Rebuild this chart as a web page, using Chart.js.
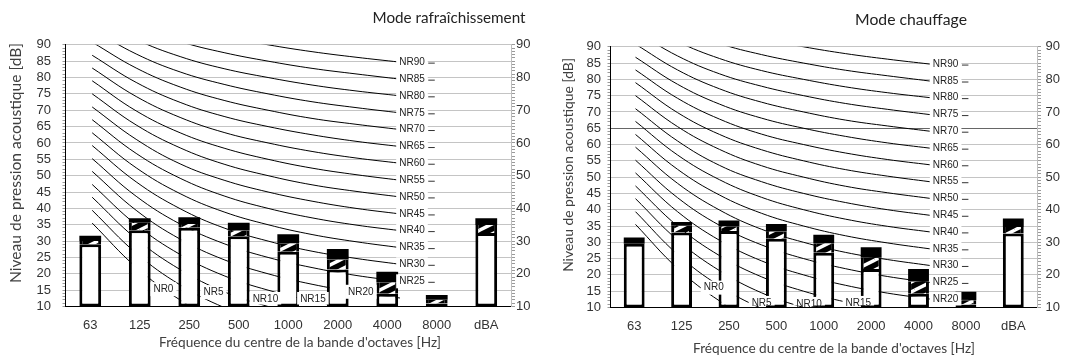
<!DOCTYPE html>
<html>
<head>
<meta charset="utf-8">
<script src="https://cdn.jsdelivr.net/npm/chart.js@4.4.1/dist/chart.umd.min.js"></script>
<style>
  html, body { margin: 0; padding: 0; background: #fff; }
  #wrap { position: relative; width: 1069px; height: 358px; }
  canvas { position: absolute; top: 0; }
  #cool { left: 0; }
  #heat { left: 535px; }
</style>
</head>
<body>
<div id="wrap">
  <canvas id="cool" width="535" height="358"></canvas>
  <canvas id="heat" width="534" height="358"></canvas>
</div>
<script>
const bands = ['63', '125', '250', '500', '1000', '2000', '4000', '8000', 'dBA'];

// NR curves, 63 Hz ... 8000 Hz
const nrLevels = [0, 5, 10, 15, 20, 25, 30, 35, 40, 45, 50, 55, 60, 65, 70, 75, 80, 85, 90];
const nr0  = [35.5, 22.0, 12.0, 4.8, 0.0, -3.5, -6.1, -8.0];
const nr5  = [39.4, 26.3, 16.6, 9.7, 5.0, 1.6, -1.0, -2.8];
const nr10 = [43.4, 30.7, 21.3, 14.5, 10.0, 6.6, 4.2, 2.3];
const nr15 = [47.3, 35.0, 25.9, 19.4, 15.0, 11.7, 9.3, 7.4];
const nr20 = [51.3, 39.4, 30.6, 24.3, 20.0, 16.8, 14.4, 12.6];
const nr25 = [55.2, 43.7, 35.2, 29.2, 25.0, 21.9, 19.5, 17.7];
const nr30 = [59.2, 48.1, 39.9, 34.0, 30.0, 26.9, 24.7, 22.9];
const nr35 = [63.1, 52.4, 44.5, 38.9, 35.0, 32.0, 29.8, 28.0];
const nr40 = [67.1, 56.8, 49.2, 43.8, 40.0, 37.1, 34.9, 33.2];
const nr45 = [71.0, 61.1, 53.6, 48.6, 45.0, 42.2, 40.0, 38.3];
const nr50 = [75.0, 65.5, 58.5, 53.5, 50.0, 47.2, 45.2, 43.5];
const nr55 = [79.0, 69.8, 63.1, 58.4, 55.0, 52.3, 50.3, 48.6];
const nr60 = [82.9, 74.2, 67.8, 63.2, 60.0, 57.4, 55.4, 53.8];
const nr65 = [86.8, 78.5, 72.4, 68.1, 65.0, 62.5, 60.5, 58.9];
const nr70 = [90.8, 82.9, 77.1, 73.0, 70.0, 67.5, 65.7, 64.1];
const nr75 = [94.7, 87.2, 81.7, 77.9, 75.0, 72.6, 70.8, 69.2];
const nr80 = [98.7, 91.6, 86.4, 82.7, 80.0, 77.7, 75.9, 74.4];
const nr85 = [102.6, 95.9, 91.0, 87.6, 85.0, 82.8, 81.1, 79.5];
const nr90 = [106.6, 100.3, 95.7, 92.5, 90.0, 87.9, 86.2, 84.7];
const nrCurves = [nr0, nr5, nr10, nr15, nr20, nr25, nr30, nr35, nr40, nr45,
                  nr50, nr55, nr60, nr65, nr70, nr75, nr80, nr85, nr90];

// bars: top of white part, top of hatched band, top of black cap (dB)
const coolBase  = [29.0, 33.3, 34.1, 31.5, 26.7, 21.3, 13.9, 10.9, 32.5];
const coolHatch = [30.0, 35.6, 35.2, 33.2, 29.3, 24.4, 17.4, 12.1, 34.9];
const coolTop   = [31.6, 37.0, 37.3, 35.6, 32.1, 27.6, 20.6, 13.5, 37.0];
const heatBase  = [29.6, 33.0, 33.5, 31.1, 26.8, 21.8, 14.2, 10.9, 32.7];
const heatHatch = [29.6, 35.1, 34.9, 33.3, 29.7, 25.3, 18.0, 12.2, 34.7];
const heatTop   = [31.5, 36.2, 36.7, 35.6, 32.3, 28.5, 21.8, 14.8, 37.3];

// where the low NR labels were moved to (curve index units, dB)
const coolLowLabels = { 0: [1.62, 15.3], 5: [2.76, 14.4], 10: [3.94, 12.3], 15: [5.02, 12.3], 20: [6.11, 14.5] };
const heatLowLabels = { 0: [1.86, 16.1], 5: [3.0, 11.4], 10: [4.13, 11.1], 15: [5.3, 11.4] };

const TICK_FONT = { family: '"Liberation Sans", Arial, sans-serif', size: 13 };
const TEXT_FAMILY = 'Lato, "Open Sans", sans-serif';

function makeHatch() {
  const c = document.createElement('canvas');
  c.width = 20; c.height = 10;
  const g = c.getContext('2d');
  g.fillStyle = '#000';
  g.fillRect(0, 0, 20, 10);
  g.strokeStyle = '#fff';
  g.lineWidth = 3.5;
  g.beginPath();
  for (const dx of [-20, 0, 20]) {
    for (const dy of [-10, 0, 10]) {
      g.moveTo(dx, 10 + dy);
      g.lineTo(20 + dx, dy);
    }
  }
  g.stroke();
  return g.createPattern(c, 'repeat');
}

// titles, sized so that they cover the same length as in the original
const textPlugin = {
  id: 'texts',
  afterDraw(chart, args, opts) {
    const ctx = chart.ctx;
    for (const t of opts.items || []) {
      ctx.save();
      ctx.font = '12px ' + TEXT_FAMILY;
      const size = 12 * t.len / ctx.measureText(t.text).width;
      ctx.font = size.toFixed(2) + 'px ' + TEXT_FAMILY;
      ctx.fillStyle = t.color || '#333';
      ctx.textAlign = 'center';
      ctx.textBaseline = 'middle';
      ctx.translate(t.x, t.y);
      if (t.rot) ctx.rotate(t.rot);
      ctx.fillText(t.text, 0, 0);
      ctx.restore();
    }
  }
};

const nrLabelPlugin = {
  id: 'nrLabels',
  afterDatasetsDraw(chart, args, opts) {
    const { ctx, scales, chartArea } = chart;
    ctx.save();
    ctx.font = '10px "Liberation Sans", Arial, sans-serif';
    ctx.textBaseline = 'middle';
    ctx.textAlign = 'center';
    nrLevels.forEach((lvl, i) => {
      const name = 'NR' + lvl;
      const w = ctx.measureText(name).width;
      const low = opts.low[lvl];
      let cx, cy;
      if (low) {
        cx = scales.xc.getPixelForValue(low[0]);
        cy = scales.y.getPixelForValue(low[1]);
      } else {
        const px = scales.x.getPixelForValue(7) + opts.dash;
        cy = scales.y.getPixelForValue(nrCurves[i][7]);
        cx = px - 7 - w / 2;
        ctx.strokeStyle = '#333';
        ctx.lineWidth = 1;
        ctx.beginPath();
        ctx.moveTo(px - 3.5, cy + 1);
        ctx.lineTo(px + 3, cy + 1);
        ctx.stroke();
      }
      const top = cy - 7;
      const bottom = Math.min(cy + 7, chartArea.bottom - 2);
      ctx.fillStyle = '#fff';
      ctx.fillRect(cx - w / 2 - 3, top, w + 6, bottom - top);
      ctx.fillStyle = '#222';
      ctx.fillText(name, cx, cy);
    });
    ctx.restore();
  }
};

function makePanel(id, p) {
  const hatch = makeHatch();
  const datasets = [];
  nrCurves.forEach((curve, i) => {
    datasets.push({
      type: 'line',
      label: 'NR' + nrLevels[i],
      xAxisID: 'xc',
      yAxisID: 'y',
      data: curve.map((v, k) => ({ x: k, y: v })),
      borderColor: '#000',
      borderWidth: 1,
      pointRadius: 0,
      tension: 0.4,
      order: 10
    });
  });
  const barCommon = {
    type: 'bar',
    xAxisID: 'x',
    yAxisID: 'y',
    grouped: false,
    barPercentage: 0.44,
    categoryPercentage: 1,
    borderColor: '#000',
    borderSkipped: false
  };
  datasets.push(Object.assign({}, barCommon, {
    label: 'base',
    data: p.base.map(v => [10, v]),
    backgroundColor: '#fff',
    borderWidth: 3,
    order: 3
  }));
  datasets.push(Object.assign({}, barCommon, {
    label: 'hatch',
    data: p.base.map((v, i) => [v, p.hatch[i]]),
    backgroundColor: hatch,
    borderWidth: { left: 3, right: 3, top: 0, bottom: 0 },
    order: 2
  }));
  datasets.push(Object.assign({}, barCommon, {
    label: 'top',
    data: p.hatch.map((v, i) => [v, p.top[i]]),
    backgroundColor: '#000',
    borderWidth: 0,
    order: 1
  }));

  return new Chart(document.getElementById(id), {
    type: 'bar',
    data: { labels: bands, datasets },
    plugins: [textPlugin, nrLabelPlugin],
    options: {
      responsive: false,
      animation: false,
      devicePixelRatio: 1,
      layout: { padding: { top: p.top0, left: 0, right: 0, bottom: 0 } },
      plugins: {
        legend: { display: false },
        tooltip: { enabled: false },
        nrLabels: { low: p.low, dash: p.dash },
        texts: { items: p.texts }
      },
      scales: {
        x: {
          type: 'category',
          offset: true,
          grid: { display: false },
          border: { color: '#000', width: 1 },
          ticks: { font: TICK_FONT, color: '#333', padding: 3, maxRotation: 0, autoSkip: false },
          afterFit(s) { s.height = p.xH; s.paddingLeft = 0; s.paddingRight = 0; }
        },
        xc: { type: 'linear', display: false, offset: false, min: p.xcMin, max: p.xcMax },
        y: {
          position: 'left',
          min: 10, max: 90,
          ticks: {
            stepSize: 1, maxTicksLimit: 200, autoSkip: false,
            font: TICK_FONT, color: '#333', padding: p.leftPad,
            callback: v => (v % 5 === 0 ? v : '')
          },
          grid: {
            color: c => {
              const v = c.tick ? c.tick.value : 0;
              if (p.darkLine && v === p.darkLine) return '#666';
              return v % 5 === 0 ? '#c4c4c4' : 'rgba(0,0,0,0)';
            },
            tickColor: '#9a9a9a',
            tickLength: 3
          },
          border: { color: '#000', width: 1 },
          afterFit(s) { s.width = p.leftW; s.paddingTop = 0; s.paddingBottom = 0; }
        },
        y2: {
          position: 'right',
          min: 10, max: 90,
          ticks: {
            stepSize: 1, maxTicksLimit: 200, autoSkip: false,
            font: TICK_FONT, color: '#333', padding: p.rightPad,
            callback: v => (v % 10 === 0 ? v : '')
          },
          grid: { drawOnChartArea: false, tickColor: '#9a9a9a', tickLength: 4 },
          border: { color: '#bdbdbd', width: 1 },
          afterFit(s) { s.width = p.rightW; s.paddingTop = 0; s.paddingBottom = 0; }
        }
      }
    }
  });
}

const Y_TITLE = 'Niveau de pression acoustique [dB]';
const X_TITLE = "Fréquence du centre de la bande d'octaves [Hz]";

makePanel('cool', {
  base: coolBase, hatch: coolHatch, top: coolTop, low: coolLowLabels,
  top0: 44.8, xH: 51.5, leftW: 65.5, rightW: 24, leftPad: 11.5, rightPad: 1,
  xcMin: -0.607, xcMax: 9.525, dash: -5,
  texts: [
    { text: 'Mode rafraîchissement', x: 449, y: 18, len: 153, color: '#222' },
    { text: Y_TITLE, x: 15.5, y: 163, len: 240, rot: -Math.PI / 2, color: '#404040' },
    { text: X_TITLE, x: 300, y: 343, len: 282, color: '#404040' }
  ]
});

makePanel('heat', {
  base: heatBase, hatch: heatHatch, top: heatTop, low: heatLowLabels,
  top0: 46.8, xH: 50.5, leftW: 75.5, rightW: 32, leftPad: 6.5, rightPad: 4.4,
  xcMin: -0.595, xcMax: 9.55, dash: -0.5, darkLine: 65,
  texts: [
    { text: 'Mode chauffage', x: 376, y: 19.5, len: 112, color: '#222' },
    { text: Y_TITLE, x: 34, y: 165, len: 214, rot: -Math.PI / 2, color: '#404040' },
    { text: X_TITLE, x: 299, y: 349, len: 282, color: '#404040' }
  ]
});
</script>
</body>
</html>
